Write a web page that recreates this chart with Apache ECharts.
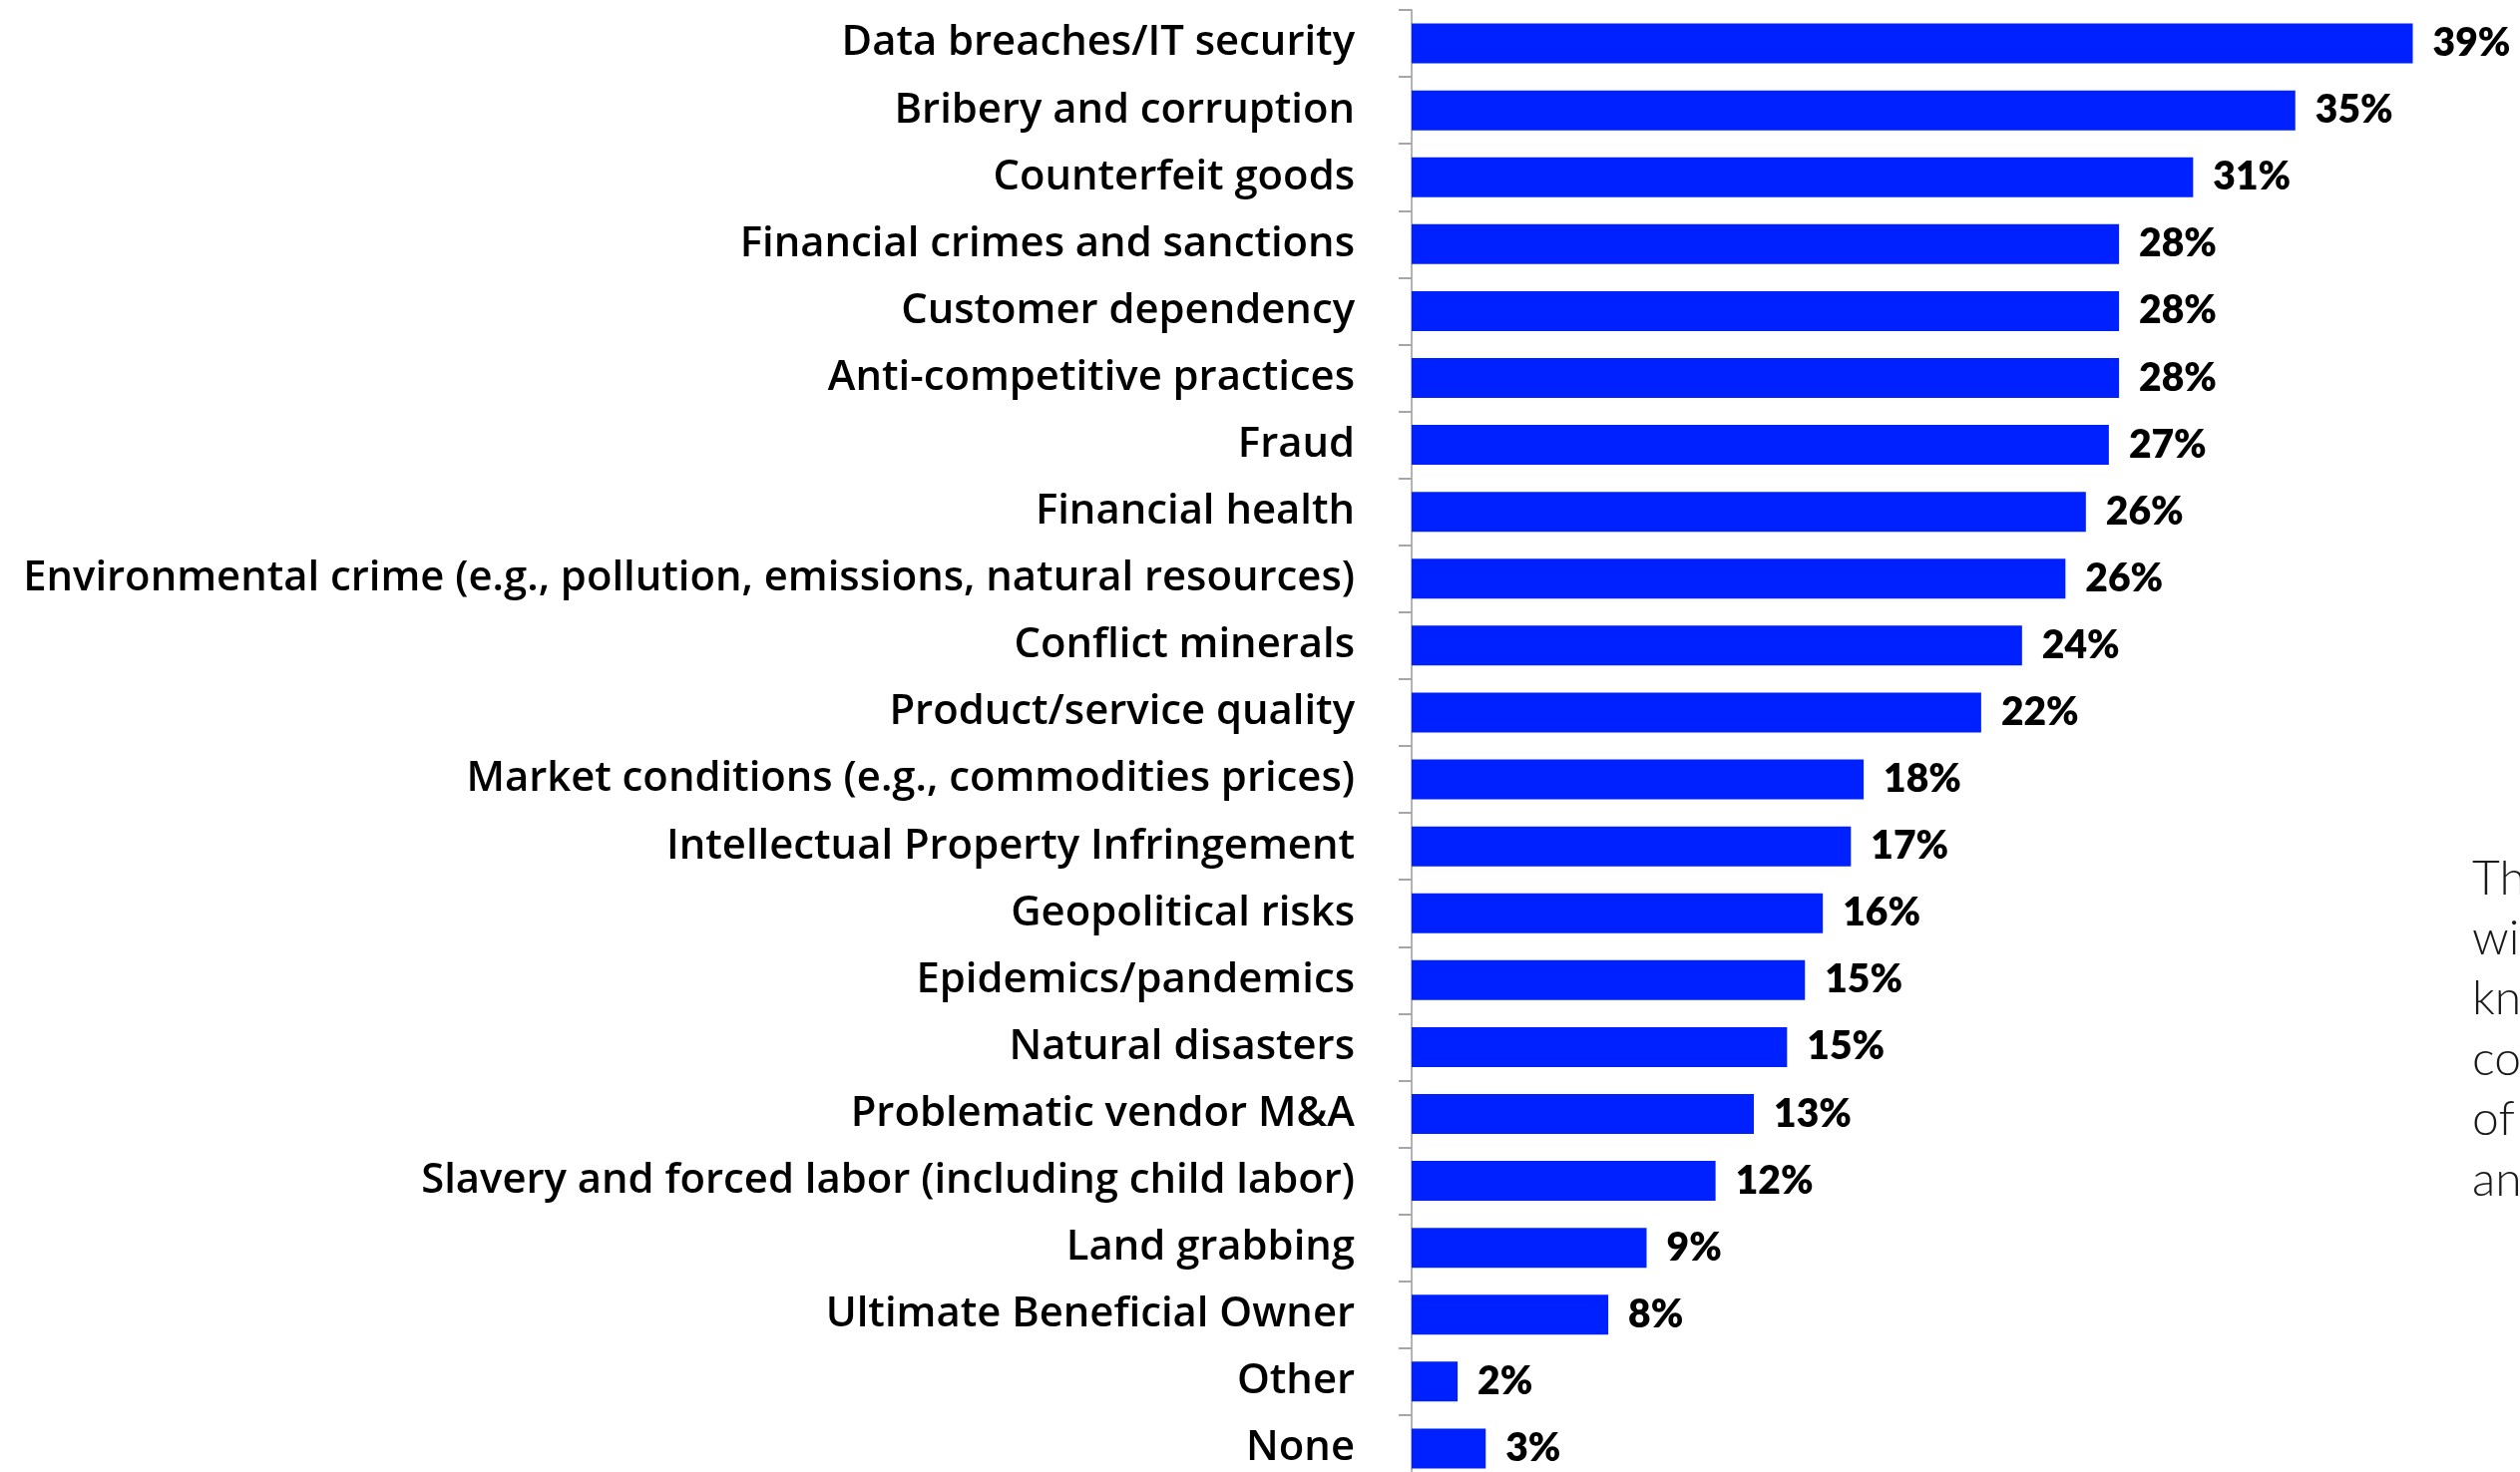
<!DOCTYPE html>
<html>
<head>
<meta charset="utf-8">
<script src="https://cdn.jsdelivr.net/npm/echarts@6/dist/echarts.min.js"></script>
<style>
html,body{margin:0;padding:0;background:#fff;overflow:hidden;}
#chart{width:2526px;height:1476px;}
</style>
</head>
<body>
<div id="chart"></div>
<script>
const categories = [
  "Data breaches/IT security",
  "Bribery and corruption",
  "Counterfeit goods",
  "Financial crimes and sanctions",
  "Customer dependency",
  "Anti-competitive practices",
  "Fraud",
  "Financial health",
  "Environmental crime (e.g., pollution, emissions, natural resources)",
  "Conflict minerals",
  "Product/service quality",
  "Market conditions (e.g., commodities prices)",
  "Intellectual Property Infringement",
  "Geopolitical risks",
  "Epidemics/pandemics",
  "Natural disasters",
  "Problematic vendor M&A",
  "Slavery and forced labor (including child labor)",
  "Land grabbing",
  "Ultimate Beneficial Owner",
  "Other",
  "None"
];
const values = [39.2, 34.6, 30.6, 27.7, 27.7, 27.7, 27.3, 26.4, 25.6, 23.9, 22.3, 17.7, 17.2, 16.1, 15.4, 14.7, 13.4, 11.9, 9.2, 7.7, 1.8, 2.9];
const sideTextLines = ["Th", "wi", "kn", "co", "of", "an"];

const chart = echarts.init(document.getElementById('chart'));
chart.setOption({
  animation: false,
  backgroundColor: '#ffffff',
  grid: { left: 1415, top: 10, width: 1024, height: 1476, containLabel: false, outerBoundsMode: 'none' },
  xAxis: { type: 'value', min: 0, max: 40, show: false },
  yAxis: {
    type: 'category',
    inverse: true,
    data: categories,
    axisLine: { show: true, lineStyle: { color: '#b3b3b3', width: 2 } },
    axisTick: { show: true, length: 13, lineStyle: { color: '#a6a6a6', width: 2 } },
    axisLabel: {
      margin: 57,
      fontSize: 41.8,
      fontFamily: 'Open Sans',
      fontWeight: 600,
      color: '#000000'
    },
    splitLine: { show: false }
  },
  series: [{
    type: 'bar',
    data: values,
    barWidth: 40,
    itemStyle: { color: '#0021ff' },
    label: {
      show: true,
      position: 'right',
      distance: 20,
      formatter: p => Math.round(p.value) + '%',
      fontSize: 39,
      fontFamily: 'Lato',
      fontWeight: 800,
      color: '#000000'
    }
  }],
  graphic: [{
    type: 'text',
    left: 2478,
    top: 851,
    style: {
      text: sideTextLines.join('\n'),
      fontSize: 48,
      lineHeight: 60.4,
      fontFamily: 'Lato',
      fontWeight: 300,
      fill: '#1a1a1a'
    }
  }]
});
</script>
</body>
</html>
